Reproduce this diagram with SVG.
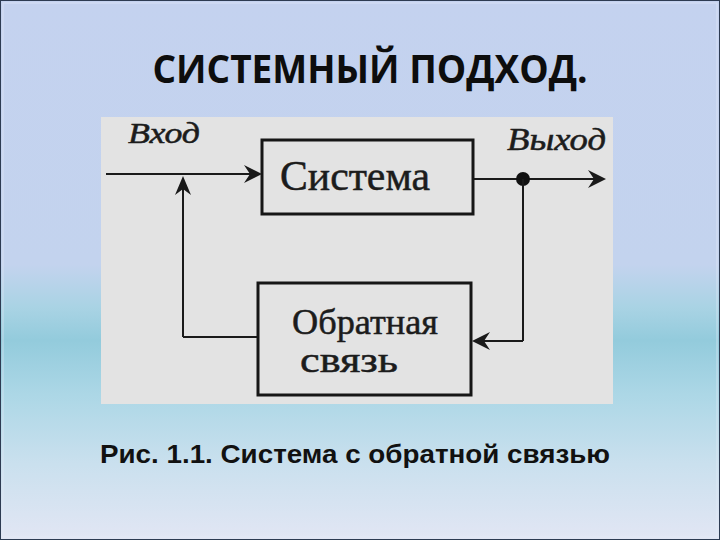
<svg xmlns="http://www.w3.org/2000/svg" width="720" height="540" viewBox="0 0 720 540">
<defs>
<linearGradient id="bg" x1="0" y1="0" x2="0" y2="1">
<stop offset="0" stop-color="#c4d2ef"/>
<stop offset="0.49" stop-color="#c3d3ee"/>
<stop offset="0.57" stop-color="#a9d3e4"/>
<stop offset="0.63" stop-color="#93cbdc"/>
<stop offset="0.73" stop-color="#acd7e6"/>
<stop offset="0.86" stop-color="#cae0ee"/>
<stop offset="1" stop-color="#e2e6f4"/>
</linearGradient>
<style>
.box{fill:none;stroke:#161616;stroke-width:3}
.ln{fill:none;stroke:#1a1a1a;stroke-width:2}
.ah{fill:#1a1a1a}
.serif{font-family:"Liberation Serif","DejaVu Serif",serif;fill:#1c1c1c;stroke:#1c1c1c;stroke-width:0.5}
</style>
</defs>
<rect x="0" y="0" width="720" height="540" fill="url(#bg)"/>
<rect x="0.5" y="0.5" width="719" height="539" fill="none" stroke="#2d3b52" stroke-width="1"/>
<rect x="3" y="3" width="714" height="534" fill="none" stroke="#e6ecf8" stroke-width="1" opacity="0.6"/>
<text x="370" y="83" text-anchor="middle" font-family="'Open Sans','DejaVu Sans',sans-serif" font-weight="bold" font-size="39" fill="#0d0d0d" textLength="435" lengthAdjust="spacingAndGlyphs">СИСТЕМНЫЙ ПОДХОД.</text>
<rect x="101" y="117" width="512" height="287" fill="#e3e3e3"/>
<g id="connectors">
<line class="ln" x1="106" y1="174" x2="250" y2="174"/>
<polygon class="ah" points="262,174 244,165 250,174 244,183"/>
<line class="ln" x1="183" y1="337" x2="183" y2="188"/>
<polygon class="ah" points="183,176 175,195 183,189 191,195"/>
<line class="ln" x1="183" y1="337" x2="258" y2="337"/>
<line class="ln" x1="473" y1="179" x2="594" y2="179"/>
<polygon class="ah" points="606,179 588,170 594,179 588,188"/>
<circle cx="523" cy="179" r="7" fill="#111"/>
<line class="ln" x1="523" y1="179" x2="523" y2="341"/>
<line class="ln" x1="523" y1="341" x2="484" y2="341"/>
<polygon class="ah" points="472,341 490,332 484,341 490,350"/>
</g>
<g id="label-vhod"><text class="serif" x="128" y="143" font-size="30" font-style="italic" textLength="72" lengthAdjust="spacingAndGlyphs">Вход</text></g>
<g id="label-vyhod"><text class="serif" x="507" y="150" font-size="31" font-style="italic" textLength="99" lengthAdjust="spacingAndGlyphs">Выход</text></g>
<g id="node-sistema">
<rect class="box" x="262" y="140" width="211" height="74"/>
<text class="serif" x="280" y="190" font-size="42" textLength="150" lengthAdjust="spacingAndGlyphs">Система</text>
</g>
<g id="node-feedback">
<rect class="box" x="258" y="283" width="213" height="112"/>
<text class="serif" x="292" y="334" font-size="36" textLength="146" lengthAdjust="spacingAndGlyphs">Обратная</text>
<text class="serif" x="300" y="372" font-size="36" textLength="98" lengthAdjust="spacingAndGlyphs">связь</text>
</g>
<text x="355" y="463" text-anchor="middle" font-family="'Liberation Sans',Arial,sans-serif" font-weight="bold" font-size="25" fill="#111" textLength="510" lengthAdjust="spacingAndGlyphs">Рис. 1.1. Система с обратной связью</text>
</svg>
